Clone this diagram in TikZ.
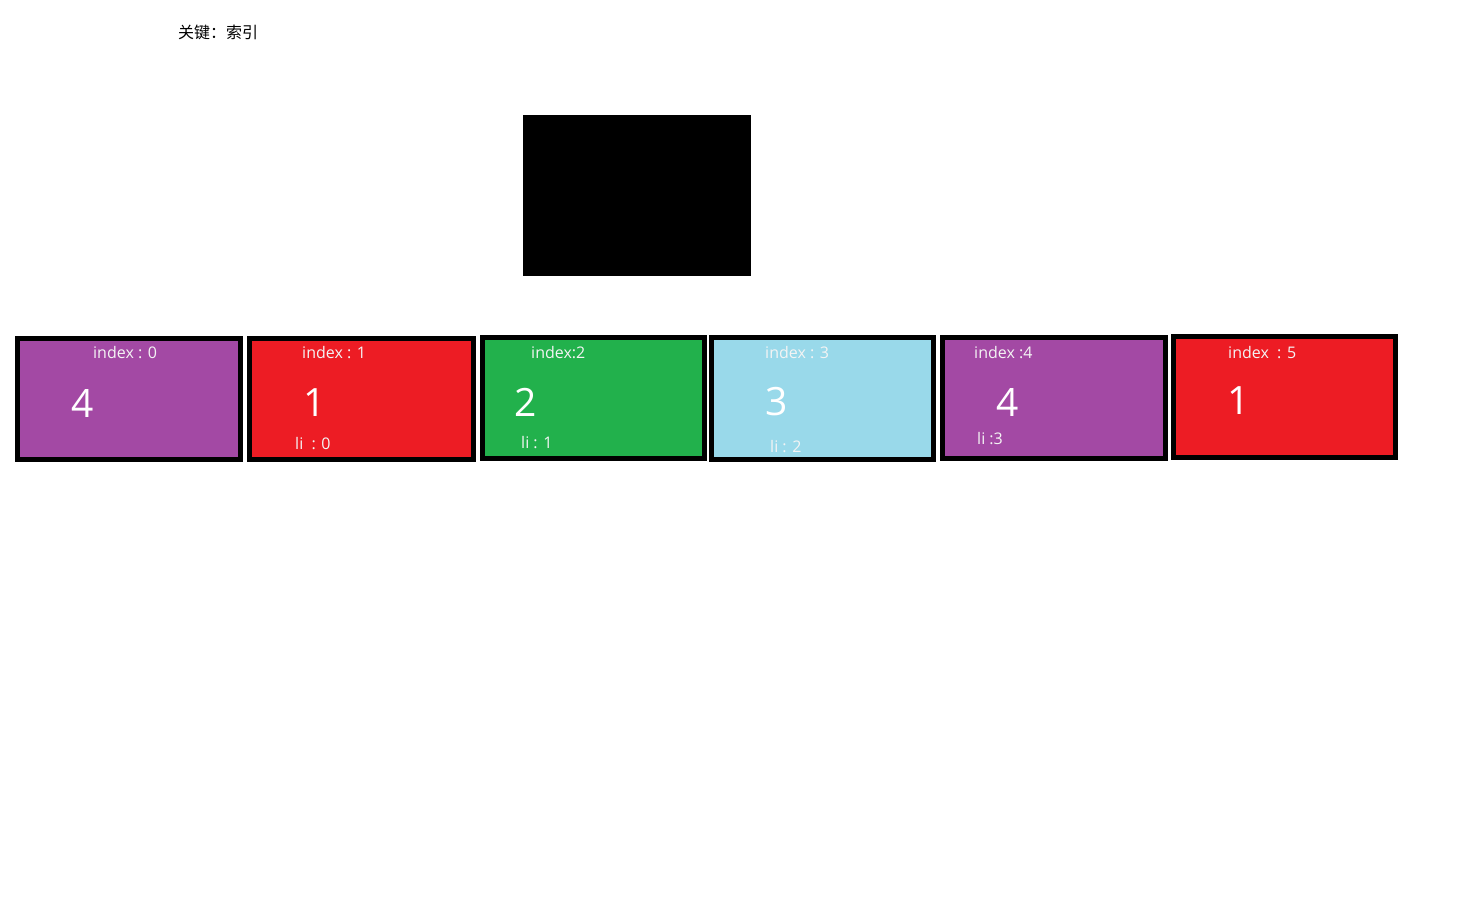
\documentclass[tikz,border=0pt]{standalone}
\usepackage{fontspec}
\setmainfont{Open Sans}
\newfontfamily\cjk{Noto Sans CJK SC}
\definecolor{cpurple}{HTML}{A349A4}
\definecolor{cred}{HTML}{ED1C24}
\definecolor{cgreen}{HTML}{22B14C}
\definecolor{cblue}{HTML}{99D9EA}
\definecolor{ctext}{HTML}{F4F4F4}
\begin{document}
\begin{tikzpicture}[x=1pt,y=-1pt,
  cell/.style={draw=black,line width=5pt,minimum width=223pt,minimum height=121pt,inner sep=0pt,outer sep=0pt},
  lbl/.style={anchor=base west,inner sep=0pt,text=ctext,font=\fontsize{16}{18}\selectfont},
  big/.style={anchor=base,inner sep=0pt,text=white,font=\fontsize{39}{44}\selectfont}]
\useasboundingbox (0,0) rectangle (1478,908);
\fill[white] (0,0) rectangle (1478,908);
\node[anchor=base west,inner sep=0pt,font=\cjk\fontsize{16}{18}\selectfont] (title) at (178,38) {关键：索引};
\node[fill=black,minimum width=228pt,minimum height=161pt,inner sep=0pt] (blk) at (637,195.5) {};
\node[cell,fill=cpurple] (b0) at (129,399) {};
\node[cell,fill=cred,minimum width=224pt] (b1) at (361.5,399) {};
\node[cell,fill=cgreen,minimum width=222pt] (b2) at (593.5,398) {};
\node[cell,fill=cblue,minimum width=222pt,minimum height=122pt] (b3) at (822.5,398.5) {};
\node[cell,fill=cpurple] (b4) at (1054,398) {};
\node[cell,fill=cred,minimum width=222pt] (b5) at (1284.5,397) {};
% index labels
\node[lbl] (i0) at (93,358) {index : 0};
\node[lbl] (i1) at (302,358) {index : 1};
\node[lbl] (i2) at (531,358) {index:2};
\node[lbl] (i3) at (765,358) {index : 3};
\node[lbl] (i4) at (974,358) {index :4};
\node[lbl] (i5) at (1228,358) {index\ \ : 5};
% values
\node[big] (v0) at (83,417) {4};
\node[big] (v1) at (315,416) {1};
\node[big] (v2) at (526,416) {2};
\node[big] (v3) at (777,415) {3};
\node[big] (v4) at (1008,416) {4};
\node[big] (v5) at (1239,414) {1};
% li labels
\node[lbl] (l1) at (295,449) {li\ \ : 0};
\node[lbl] (l2) at (521,448) {li : 1};
\node[lbl] (l3) at (770,452) {li : 2};
\node[lbl] (l4) at (977,444) {li :3};
\end{tikzpicture}
\end{document}
